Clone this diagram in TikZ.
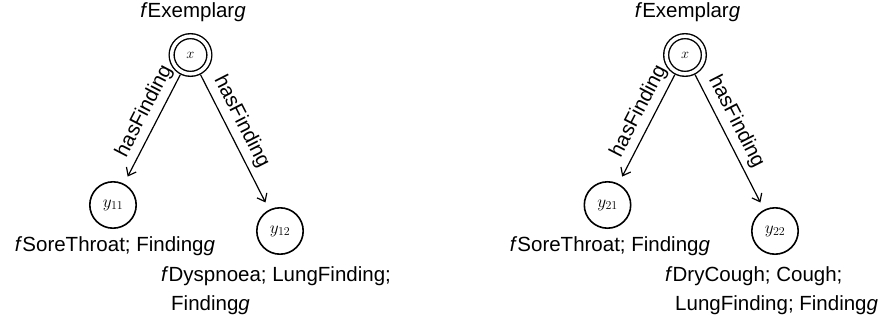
\documentclass[tikz,border=0pt]{standalone}
\usepackage{fontspec}
\setmainfont{Liberation Sans}
\usetikzlibrary{arrows.meta}
\begin{document}
\begin{tikzpicture}[x=1pt,y=-1pt,
 txt/.style={font=\fontsize{20.5}{29}\selectfont, inner sep=0pt},
 root/.style={circle, draw, double, double distance=3.5pt, line width=1.4pt, minimum size=37.7pt, inner sep=0pt, outer sep=3.2pt, font=\fontsize{15}{15}\selectfont},
 leaf/.style={circle, draw, line width=1.6pt, minimum size=46.4pt, inner sep=0pt, font=\fontsize{18}{18}\selectfont},
 rel/.style={-{Straight Barb[length=7pt,width=11pt]}, line width=1.2pt, shorten >=8pt},
 lab/.style={font=\fontsize{20.5}{24}\selectfont, sloped, above, pos=0.4, inner sep=5pt}]
\useasboundingbox (0,0) rectangle (888,324);
% left panel
\node[txt] (t1) at (193,12) {\textit{f}Exemplar\textit{g}};
\node[root] (x1) at (190.5,55) {$x$};
\node[leaf] (y11) at (113,205) {$y_{11}$};
\node[leaf] (y12) at (280,231) {$y_{12}$};
\node[txt] (s11) at (115,246) {\textit{f}SoreThroat; Finding\textit{g}};
\node[txt, anchor=west, align=left] (s12) at (161,290.5) {\textit{f}Dyspnoea; LungFinding;\\\hspace*{10pt}Finding\textit{g}};
\draw[rel] (x1) -- node[lab]{hasFinding} (y11);
\draw[rel] (x1) -- node[lab]{hasFinding} (y12);
% right panel
\node[txt] (t2) at (687.5,12) {\textit{f}Exemplar\textit{g}};
\node[root] (x2) at (685,55) {$x$};
\node[leaf] (y21) at (607.5,205) {$y_{21}$};
\node[leaf] (y22) at (775,231) {$y_{22}$};
\node[txt] (s21) at (610,246) {\textit{f}SoreThroat; Finding\textit{g}};
\node[txt, anchor=west, align=left] (s22) at (665,290.5) {\textit{f}DryCough; Cough;\\\hspace*{10pt}LungFinding; Finding\textit{g}};
\draw[rel] (x2) -- node[lab]{hasFinding} (y21);
\draw[rel] (x2) -- node[lab]{hasFinding} (y22);
\end{tikzpicture}
\end{document}
